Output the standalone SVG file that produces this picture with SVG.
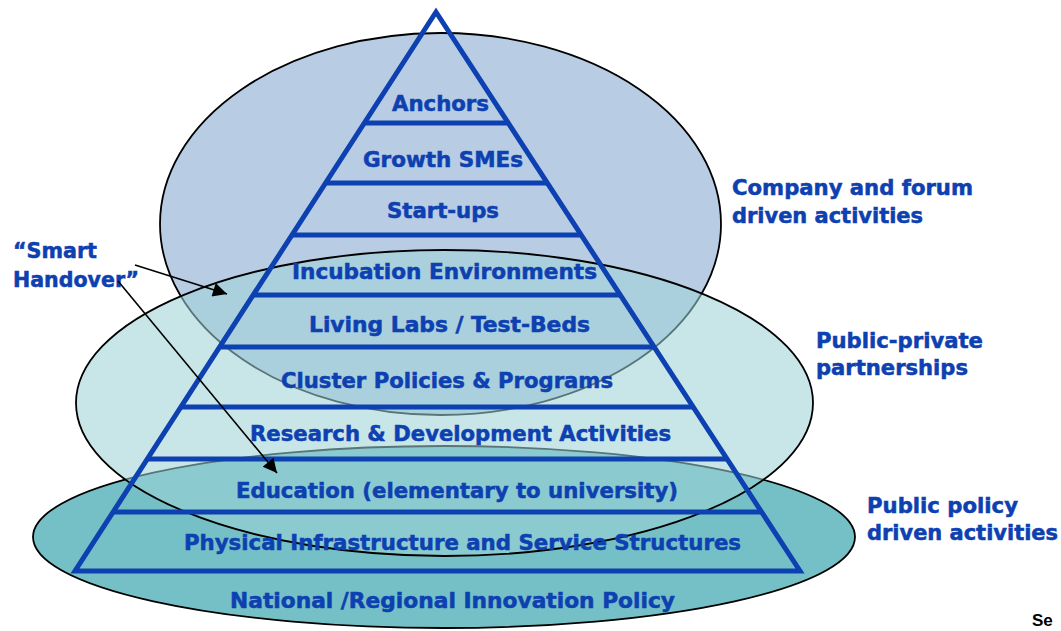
<svg xmlns="http://www.w3.org/2000/svg" width="1061" height="631" viewBox="0 0 1061 631">
<style>
.lbl{font-family:"DejaVu Sans Condensed","DejaVu Sans",sans-serif;font-weight:bold;font-size:22px;fill:#0d40b0;stroke:#0d40b0;stroke-width:0.5}
.tier{stroke:#0d40b0;stroke-width:5;fill:none}
.ell{stroke:#000;stroke-width:1.8}
.conn{stroke:#000;stroke-width:1.6;fill:none;marker-end:url(#ah)}
</style>
<defs>
<marker id="ah" viewBox="0 0 10 10" refX="10" refY="5" markerWidth="18" markerHeight="14" markerUnits="userSpaceOnUse" orient="auto">
<path d="M0,0 L10,5 L0,10 z" fill="#000"/>
</marker>
</defs>
<rect width="1061" height="631" fill="#fff"/>
<g id="ellipse-public-policy">
<ellipse class="ell" cx="444" cy="537" rx="411" ry="91" fill="#75c0c6"/>
<text class="lbl" x="867" y="513" textLength="151" lengthAdjust="spacingAndGlyphs">Public policy</text>
<text class="lbl" x="867" y="540" textLength="191" lengthAdjust="spacingAndGlyphs">driven activities</text>
</g>
<g id="ellipse-company">
<ellipse class="ell" cx="440.5" cy="224" rx="280.5" ry="191" fill="#b8cce4"/>
<text class="lbl" x="732" y="195" textLength="241" lengthAdjust="spacingAndGlyphs">Company and forum</text>
<text class="lbl" x="732" y="223" textLength="191" lengthAdjust="spacingAndGlyphs">driven activities</text>
</g>
<g id="ellipse-public-private">
<ellipse cx="444.5" cy="403" rx="368.5" ry="153" fill="#9dd3d6" fill-opacity="0.56"/>
<ellipse cx="444.5" cy="403" rx="368.5" ry="153" fill="none" stroke="#000" stroke-width="1.8"/>
<text class="lbl" x="816" y="348" textLength="167" lengthAdjust="spacingAndGlyphs">Public-private</text>
<text class="lbl" x="816" y="375" textLength="152" lengthAdjust="spacingAndGlyphs">partnerships</text>
</g>
<g id="pyramid">
<polygon class="tier" points="436,12 800,571 75,571" stroke-linejoin="miter"/>
<g id="tier-anchors"><line class="tier" x1="364.3" y1="123" x2="508.3" y2="123"/>
<text class="lbl" x="392" y="111" textLength="97" lengthAdjust="spacingAndGlyphs">Anchors</text></g>
<g id="tier-growth"><line class="tier" x1="325.6" y1="183" x2="547.3" y2="183"/>
<text class="lbl" x="363" y="167" textLength="160" lengthAdjust="spacingAndGlyphs">Growth SMEs</text></g>
<g id="tier-startups"><line class="tier" x1="292" y1="235" x2="581.2" y2="235"/>
<text class="lbl" x="387" y="218" textLength="112" lengthAdjust="spacingAndGlyphs">Start-ups</text></g>
<g id="tier-incubation"><line class="tier" x1="253.2" y1="295" x2="620.3" y2="295"/>
<text class="lbl" x="292" y="279" textLength="305" lengthAdjust="spacingAndGlyphs">Incubation Environments</text></g>
<g id="tier-livinglabs"><line class="tier" x1="219.7" y1="347" x2="654.1" y2="347"/>
<text class="lbl" x="309" y="332" textLength="281" lengthAdjust="spacingAndGlyphs">Living Labs / Test-Beds</text></g>
<g id="tier-cluster"><line class="tier" x1="180.9" y1="407" x2="693.2" y2="407"/>
<text class="lbl" x="281" y="388" textLength="332" lengthAdjust="spacingAndGlyphs">Cluster Policies &amp; Programs</text></g>
<g id="tier-research"><line class="tier" x1="147.3" y1="459" x2="727.1" y2="459"/>
<text class="lbl" x="250" y="441" textLength="421" lengthAdjust="spacingAndGlyphs">Research &amp; Development Activities</text></g>
<g id="tier-education"><line class="tier" x1="113.1" y1="512" x2="761.6" y2="512"/>
<text class="lbl" x="236" y="498" textLength="442" lengthAdjust="spacingAndGlyphs">Education (elementary to university)</text></g>
<g id="tier-infrastructure">
<text class="lbl" x="184" y="550" textLength="557" lengthAdjust="spacingAndGlyphs">Physical Infrastructure and Service Structures</text></g>
<g id="tier-policy">
<text class="lbl" x="230" y="608" textLength="445" lengthAdjust="spacingAndGlyphs">National /Regional Innovation Policy</text></g>
</g>
<g id="smart-handover">
<text class="lbl" x="13" y="258" textLength="84" lengthAdjust="spacingAndGlyphs">“Smart</text>
<text class="lbl" x="13" y="287" textLength="126" lengthAdjust="spacingAndGlyphs">Handover”</text>
</g>
<g id="connectors">
<line class="conn" x1="135" y1="265" x2="227" y2="294"/>
<line class="conn" x1="118" y1="281" x2="277" y2="473"/>
</g>
<g id="source">
<text x="1032" y="626" font-family="Liberation Sans, Arial, sans-serif" font-weight="bold" font-size="17" fill="#000">Se</text>
</g>
</svg>
